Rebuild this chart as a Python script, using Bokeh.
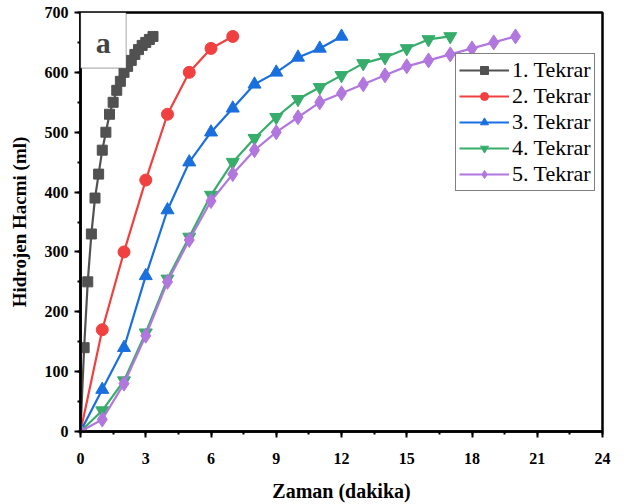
from bokeh.plotting import figure
from bokeh.models import BoxAnnotation, Label, Range1d, SingleIntervalTicker
from bokeh.embed import file_html
from bokeh.resources import INLINE

# Data
t1 = [i / 6 for i in range(21)]
v1 = [0, 140, 250, 330, 390, 430, 470, 500, 530, 550, 570, 585, 600, 610, 620, 630, 638, 645, 650, 655, 660]
t2 = [0, 1, 2, 3, 4, 5, 6, 7]
v2 = [0, 170, 300, 420, 530, 600, 640, 660]
t3 = [0, 1, 2, 3, 4, 5, 6, 7, 8, 9, 10, 11, 12]
v3 = [0, 70, 140, 260, 370, 450, 500, 540, 580, 600, 625, 640, 660]
t4 = list(range(18))
v4 = [0, 35, 85, 165, 255, 325, 395, 450, 490, 525, 555, 575, 595, 615, 625, 640, 655, 660]
t5 = list(range(21))
v5 = [0, 20, 80, 160, 250, 320, 385, 430, 470, 500, 525, 550, 565, 580, 595, 610, 620, 630, 640, 650, 660]

names = ["1. Tekrar", "2. Tekrar", "3. Tekrar", "4. Tekrar", "5. Tekrar"]
colors = ["#515151", "#F14040", "#1A6FDF", "#37AD6B", "#B177DE"]
markers = ["square", "circle", "triangle", "inverted_triangle", "diamond"]
sizes = [10, 12, 13, 13, 15]

FONT = "Liberation Serif"

p = figure(width=624, height=504, output_backend="svg", toolbar_location=None,
           x_range=Range1d(0, 24), y_range=Range1d(0, 700),
           min_border_left=80, min_border_right=22, min_border_top=12, min_border_bottom=71)
p.grid.visible = False
p.outline_line_color = "black"
p.outline_line_width = 2.5

series = [(t1, v1), (t2, v2), (t3, v3), (t4, v4), (t5, v5)]
for (t, v), n, c, m, s in zip(series, names, colors, markers, sizes):
    p.line(t, v, line_color=c, line_width=2.2, legend_label=n)
    p.scatter(t, v, marker=m, size=s, fill_color=c, line_color=c, legend_label=n)

for ax in (p.xaxis[0], p.yaxis[0]):
    ax.axis_line_width = 2.5
    ax.axis_line_color = "black"
    ax.major_tick_line_width = 2
    ax.minor_tick_line_width = 2
    ax.major_tick_line_color = "black"
    ax.minor_tick_line_color = "black"
    ax.major_tick_in = 0
    ax.major_tick_out = 6
    ax.minor_tick_in = 0
    ax.minor_tick_out = 3
    ax.major_label_text_font = FONT
    ax.major_label_text_font_style = "bold"
    ax.major_label_text_font_size = "16px"
    ax.major_label_text_color = "black"
    ax.axis_label_text_font = FONT
    ax.axis_label_text_font_style = "bold"
    ax.axis_label_text_color = "black"

p.xaxis.ticker = SingleIntervalTicker(interval=3, num_minor_ticks=2)
p.yaxis.ticker = SingleIntervalTicker(interval=100, num_minor_ticks=2)
p.xaxis.axis_label = "Zaman (dakika)"
p.yaxis.axis_label = "Hidrojen Hacmi (ml)"
p.xaxis.axis_label_text_font_size = "20px"
p.yaxis.axis_label_text_font_size = "19px"
p.xaxis.major_label_standoff = 15
p.xaxis.axis_label_standoff = 13
p.yaxis.major_label_standoff = 6
p.yaxis.axis_label_standoff = 12

box = BoxAnnotation(left=0, right=2.1, bottom=607, top=700, fill_color="white", fill_alpha=1,
                    line_color="black", line_width=1.2, level="overlay")
p.add_layout(box)
p.add_layout(Label(x=1.05, y=650, text="a", text_font=FONT, text_font_style="bold",
                   text_font_size="30px", text_align="center", text_baseline="middle", level="overlay"))

lg = p.legend[0]
lg.location = (375, 240)
lg.border_line_color = "black"
lg.border_line_width = 1
lg.label_text_font = "Liberation Serif"
lg.label_text_font_style = "normal"
lg.label_text_font_size = "22px"
lg.label_text_color = "black"
lg.glyph_width = 50
lg.glyph_height = 20
lg.label_height = 20
lg.spacing = 0
lg.padding = 3
lg.margin = 0
lg.label_standoff = 3

with open("out.html", "w") as f:
    f.write(file_html(p, INLINE))
